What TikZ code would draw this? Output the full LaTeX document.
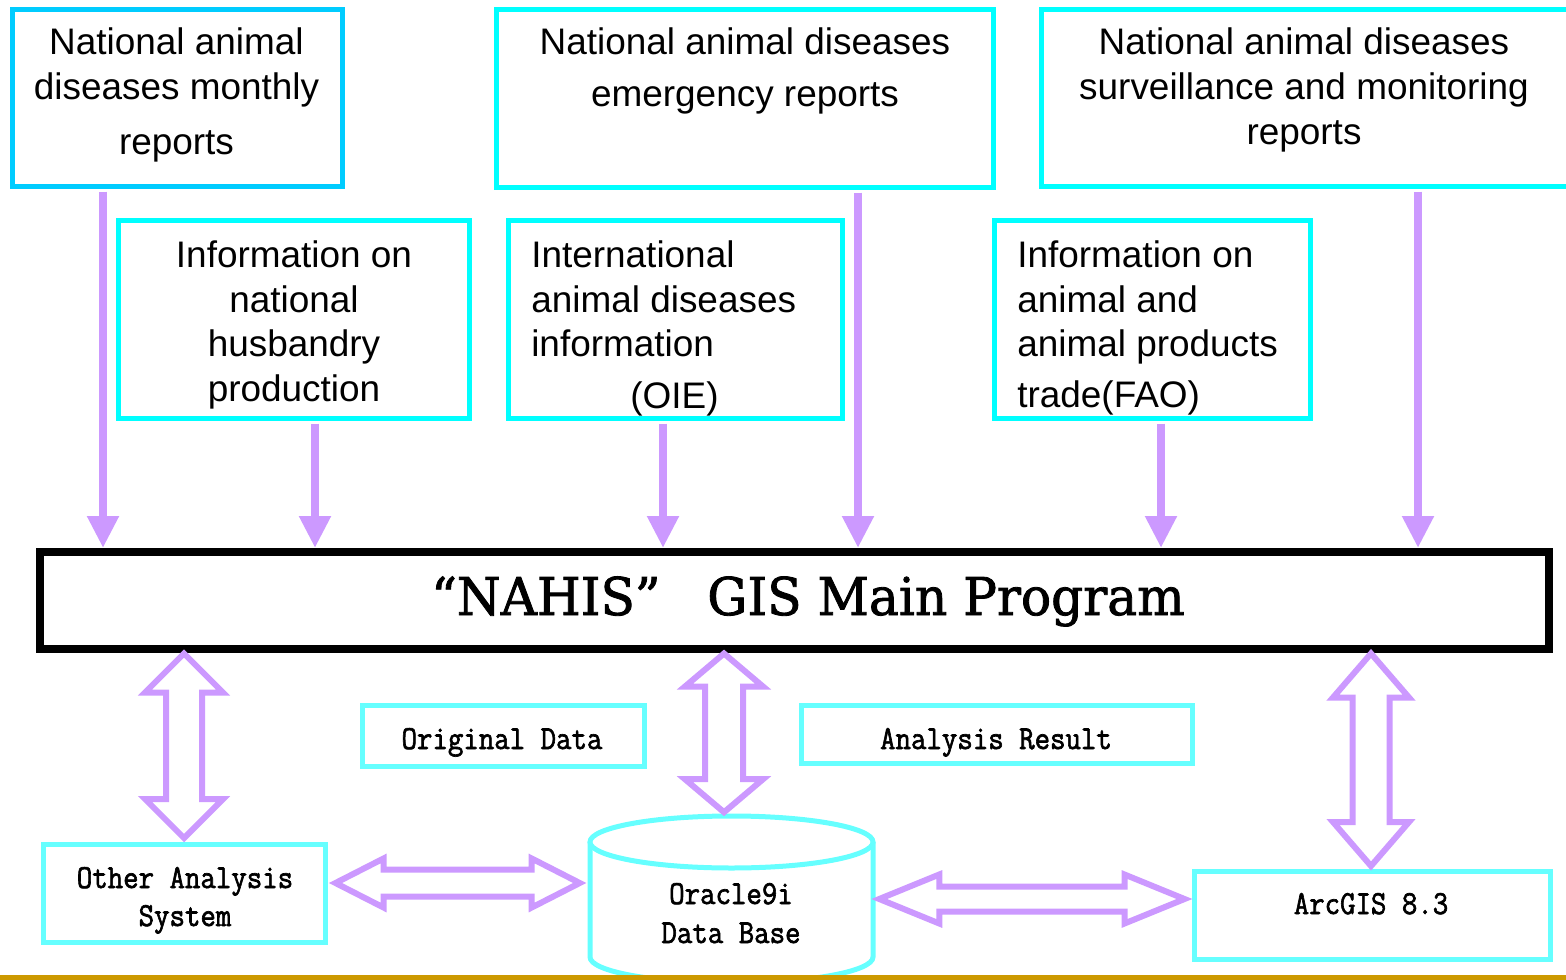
\documentclass[tikz,border=0pt]{standalone}
\usepackage{graphicx}
\usepackage{fontspec}
\setmainfont{Liberation Sans}
\newfontfamily\titlefont[FakeBold=1.6, FakeStretch=0.965]{DejaVu Serif}
\newfontfamily\cnmono[FakeBold=2]{Latin Modern Mono}
\newcommand\tallmono[1]{\scalebox{1}[1.12]{#1}}
\usetikzlibrary{arrows.meta,calc,fit}
\definecolor{arrpurple}{HTML}{CC99FF}
\definecolor{cyanA}{HTML}{00FFFF}
\definecolor{cyanB}{HTML}{00CCFF}
\definecolor{cyanC}{HTML}{66FFFF}
\definecolor{goldline}{HTML}{CC9900}
\tikzset{
  box/.style={draw=cyanA, line width=3.75pt, inner sep=0pt, fill=white},
  boxB/.style={box, draw=cyanB},
  boxC/.style={box, draw=cyanC},
  txt/.style={inner sep=0pt, font=\fontsize{27.7}{33}\selectfont, anchor=base},
  txtl/.style={txt, anchor=base west},
  mono/.style={inner sep=0pt, font=\cnmono\fontsize{22.5}{27}\selectfont, anchor=base},
  downarr/.style={draw=arrpurple, line width=6.5pt, shorten <=2pt, -{Triangle[length=24pt,width=22.5pt]}},
  hollow/.style={draw=arrpurple, line width=4.5pt, fill=white, line join=miter},
  mainbox/.style={draw=black, line width=6pt, inner sep=0pt, fill=white},
  cylline/.style={draw=cyanC, line width=3.75pt}
}
\newcommand\vdblarrow[5]{%
  \draw[hollow] let \p1=(#1), \p2=(#2) in
  (\x1,\y1) -- ({\x1+#4*0.75pt},{\y1-#3*0.75pt}) -- ({\x1+#5*0.75pt},{\y1-#3*0.75pt})
  -- ({\x1+#5*0.75pt},{\y2+#3*0.75pt}) -- ({\x1+#4*0.75pt},{\y2+#3*0.75pt}) -- (\x1,\y2)
  -- ({\x1-#4*0.75pt},{\y2+#3*0.75pt}) -- ({\x1-#5*0.75pt},{\y2+#3*0.75pt})
  -- ({\x1-#5*0.75pt},{\y1-#3*0.75pt}) -- ({\x1-#4*0.75pt},{\y1-#3*0.75pt}) -- cycle;}
\newcommand\hdblarrow[5]{%
  \draw[hollow] let \p1=(#1), \p2=(#2) in
  (\x1,\y1) -- ({\x1+#3*0.75pt},{\y1+#4*0.75pt}) -- ({\x1+#3*0.75pt},{\y1+#5*0.75pt})
  -- ({\x2-#3*0.75pt},{\y1+#5*0.75pt}) -- ({\x2-#3*0.75pt},{\y1+#4*0.75pt}) -- (\x2,\y1)
  -- ({\x2-#3*0.75pt},{\y1-#4*0.75pt}) -- ({\x2-#3*0.75pt},{\y1-#5*0.75pt})
  -- ({\x1+#3*0.75pt},{\y1-#5*0.75pt}) -- ({\x1+#3*0.75pt},{\y1-#4*0.75pt}) -- cycle;}
\begin{document}
\begin{tikzpicture}[x=0.75pt,y=-0.75pt]
\useasboundingbox (0,0) rectangle (1566,980);
\fill[white] (0,0) rectangle (1566,980);

% ---- top source boxes
\node[boxB, fit={(12.5,9.5)(342.5,186.5)}] (b1) {};
\node[box, fit={(496.5,9.5)(993.5,187.5)}] (b2) {};
\node[box, fit={(1041.5,9.5)(1585,186.5)}] (b3) {};
\node[box, fit={(118.5,220.5)(469.5,418.5)}] (b4) {};
\node[box, fit={(508.5,220.5)(842.5,418.5)}] (b5) {};
\node[box, fit={(994.5,220.5)(1310.5,418.5)}] (b6) {};

\node[txt] (t1a) at (176.5,55) {National animal};
\node[txt] (t1b) at (176.5,100) {diseases monthly};
\node[txt] (t1c) at (176.5,155) {reports};

\node[txt] (t2a) at (745,55) {National animal diseases};
\node[txt] (t2b) at (745,107) {emergency reports};

\node[txt] (t3a) at (1304,55) {National animal diseases};
\node[txt] (t3b) at (1304,100) {surveillance and monitoring};
\node[txt] (t3c) at (1304,145) {reports};

\node[txt] (t4a) at (294,268) {Information on};
\node[txt] (t4b) at (294,313) {national};
\node[txt] (t4c) at (294,357) {husbandry};
\node[txt] (t4d) at (294,402) {production};

\node[txtl] (t5a) at (531,268) {International};
\node[txtl] (t5b) at (531,313) {animal diseases};
\node[txtl] (t5c) at (531,357) {information};
\node[txt] (t5d) at (674.5,408) {(OIE)};

\node[txtl] (t6a) at (1017,268) {Information on};
\node[txtl] (t6b) at (1017,313) {animal and};
\node[txtl] (t6c) at (1017,357) {animal products};
\node[txtl] (t6d) at (1017,407) {trade(FAO)};

% ---- main program box
\node[mainbox, fit={(40,552)(1549,649)}] (main) {};
\node[anchor=base, inner sep=0pt, font=\titlefont\fontsize{39}{45}\selectfont] (title) at (808,615)
  {“NAHIS”\hspace{0.9em}GIS Main Program};

% ---- lower boxes
\node[boxC, fit={(362,705)(644,766)}] (od) {};
\node[boxC, fit={(801,705)(1192,763)}] (ar) {};
\node[boxC, fit={(43.5,844.5)(325.5,942.5)}] (oa) {};
\node[boxC, fit={(1194.5,871.5)(1550.5,959.5)}] (arc) {};

% database cylinder (anchor node + drawing)
\node[inner sep=0pt, fit={(590,816)(873,983)}] (db) {};
\fill[white] (590,842) -- (590,957) arc[start angle=180, end angle=0, x radius=141.5, y radius=26] -- (873,842) -- cycle;
\draw[cylline] (590,842) -- (590,957) arc[start angle=180, end angle=0, x radius=141.5, y radius=26] -- (873,842);
\draw[cylline, fill=white] (731.5,842) ellipse[x radius=141.5, y radius=26];

\node[mono] (tod) at (502,749) {\tallmono{Original Data}};
\node[mono] (tar) at (996,749) {\tallmono{Analysis Result}};
\node[mono] (toa1) at (185,888) {\tallmono{Other Analysis}};
\node[mono] (toa2) at (185,926) {\tallmono{System}};
\node[mono] (tdb1) at (731,904) {\tallmono{Oracle9i}};
\node[mono] (tdb2) at (731,943) {\tallmono{Data Base}};
\node[mono] (tarc) at (1371,914) {\tallmono{ArcGIS 8.3}};

% ---- downward input arrows
\coordinate (x1) at (103,0);
\coordinate (x2) at (315,0);
\coordinate (x3) at (663,0);
\coordinate (x4) at (858,0);
\coordinate (x5) at (1161,0);
\coordinate (x6) at (1418,0);
\draw[downarr] (x1 |- b1.south) -- (x1 |- main.north);
\draw[downarr] (x2 |- b4.south) -- (x2 |- main.north);
\draw[downarr] (x3 |- b5.south) -- (x3 |- main.north);
\draw[downarr] (x4 |- b2.south) -- (x4 |- main.north);
\draw[downarr] (x5 |- b6.south) -- (x5 |- main.north);
\draw[downarr] (x6 |- b3.south) -- (x6 |- main.north);

% ---- hollow double arrows
\coordinate (cA) at (184,0);
\coordinate (cB) at (724,0);
\coordinate (cC) at (1371,0);
\path (main.south -| cA) ++(0,0.5) coordinate (v1t);
\path (oa.north -| cA) ++(0,-4) coordinate (v1b);
\path (main.south -| cB) ++(0,0.5) coordinate (v2t);
\path (db.north -| cB) ++(0,-3.5) coordinate (v2b);
\path (main.south -| cC) ++(0,0.5) coordinate (v3t);
\path (arc.north -| cC) ++(0,-3) coordinate (v3b);
\vdblarrow{v1t}{v1b}{39}{39}{18}
\vdblarrow{v2t}{v2b}{33}{39}{19}
\vdblarrow{v3t}{v3b}{44}{38}{18.5}

\coordinate (hA) at (0,883);
\coordinate (hB) at (0,899);
\path (oa.east |- hA) ++(7.5,0) coordinate (h1l);
\path (db.west |- hA) ++(-10,0) coordinate (h1r);
\path (db.east |- hB) ++(6,0) coordinate (h2l);
\path (arc.west |- hB) ++(-7.5,0) coordinate (h2r);
\hdblarrow{h1l}{h1r}{48}{24.5}{13.5}
\hdblarrow{h2l}{h2r}{60}{24.5}{12.5}

% ---- bottom rule
\fill[goldline] (0,975) rectangle (1566,980);
\end{tikzpicture}
\end{document}
